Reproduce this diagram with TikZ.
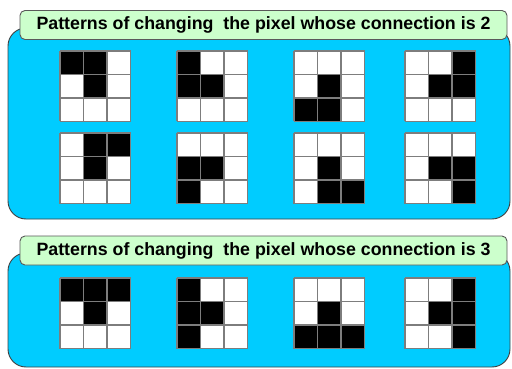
\documentclass[tikz,border=0pt]{standalone}
\usepackage{fontspec}
\setmainfont{Liberation Sans}

\definecolor{panelblue}{RGB}{0,204,255}
\definecolor{titlegreen}{RGB}{204,255,204}
\definecolor{cellgray}{RGB}{125,125,125}

\tikzset{
  panel/.style={fill=panelblue, draw=black!75, line width=0.9pt, rounded corners=18pt},
  titlebox/.style={fill=titlegreen, draw=black!65, line width=0.9pt, rounded corners=5pt,
    minimum width=487pt, minimum height=29pt, inner sep=0pt,
    font=\bfseries\fontsize{17.8}{20}\selectfont},
  cellline/.style={cellgray, line width=1.3pt}
}

% 3x3 pixel grid: top-left x, top-left y, black cells as column/row
\newcommand{\pixgrid}[3]{%
  \fill[white] (#1,#2) rectangle ++(70.5,70.5);
  \foreach \c/\r in {#3} {
    \fill[black] ({#1+\c*23.5},{#2+\r*23.5}) rectangle ++(23.5,23.5);
  }
  \foreach \i in {0,...,3} {
    \draw[cellline] ({#1+\i*23.5},#2) -- ++(0,70.5);
    \draw[cellline] (#1,{#2+\i*23.5}) -- ++(70.5,0);
  }
}

\begin{document}
\begin{tikzpicture}[x=1pt,y=-1pt]
  \useasboundingbox (0,0) rectangle (512,369);

  % connection 2 panel
  \draw[panel] (8,28) rectangle (510,219);
  \node[titlebox] (title2) at (263.5,25) {Patterns of changing\ \ the pixel whose connection is 2};

  \pixgrid{60}{51}{0/0,1/0,1/1}
  \pixgrid{177}{51}{0/0,0/1,1/1}
  \pixgrid{294}{51}{1/1,0/2,1/2}
  \pixgrid{405}{51}{2/0,1/1,2/1}

  \pixgrid{60}{133}{1/0,2/0,1/1}
  \pixgrid{177}{133}{0/1,1/1,0/2}
  \pixgrid{294}{133}{1/1,1/2,2/2}
  \pixgrid{405}{133}{1/1,2/1,2/2}

  % connection 3 panel
  \draw[panel] (8,253) rectangle (510,367);
  \node[titlebox] (title3) at (263.5,250.5) {Patterns of changing\ \ the pixel whose connection is 3};

  \pixgrid{60}{278}{0/0,1/0,2/0,1/1}
  \pixgrid{177}{278}{0/0,0/1,1/1,0/2}
  \pixgrid{294}{278}{1/1,0/2,1/2,2/2}
  \pixgrid{405}{278}{2/0,1/1,2/1,2/2}
\end{tikzpicture}
\end{document}
